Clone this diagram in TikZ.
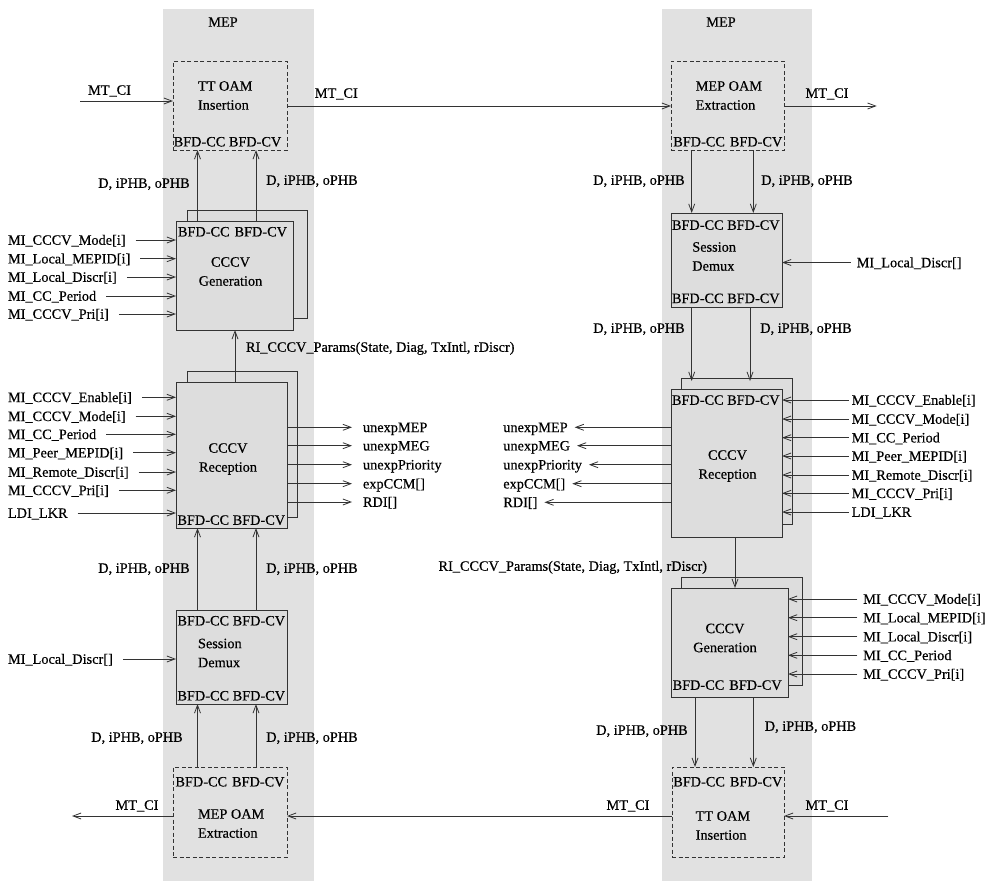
\documentclass[tikz,border=0pt]{standalone}
\usepackage{fontspec}
\setmainfont{Liberation Serif}[FakeBold=0.4]
\usetikzlibrary{arrows.meta}
\definecolor{colbg}{HTML}{E1E1E1}
\definecolor{boxbg}{HTML}{DDDDDD}
\definecolor{ln}{HTML}{333333}
\begin{document}
\begin{tikzpicture}[x=1pt,y=-1pt,
  lab/.style={font=\fontsize{14.3}{19}\selectfont, inner sep=0pt, outer sep=0pt, text height=9.5pt, text depth=0pt},
  ttl/.style={font=\fontsize{14.3}{19}\selectfont, inner sep=0pt, outer sep=0pt},
  sbox/.style={draw=ln, fill=boxbg, line width=0.8pt, inner sep=0pt, outer sep=0pt},
  dbox/.style={draw=ln, dashed, dash pattern=on 4pt off 2.5pt, line width=0.8pt, inner sep=0pt, outer sep=0pt},
  arr/.style={draw=ln, line width=0.8pt, -{Straight Barb[length=8pt,width=6pt]}}
]
\useasboundingbox (0,0) rectangle (988,881);
% columns
\fill[colbg] (163,9) rectangle (314,881);
\fill[colbg] (662,9) rectangle (812,881);
\node[ttl] (mepl) at (223,22) {MEP};
\node[ttl] (mepr) at (721,22) {MEP};

% ---------------- left column boxes ----------------
\node[dbox, minimum width=114pt, minimum height=89pt] (TTL) at (230,105.5) {};
\node[sbox, minimum width=120pt, minimum height=108pt] (GenLb) at (247,264) {};
\node[sbox, minimum width=117pt, minimum height=109pt] (GenL) at (234.5,275.5) {};
\node[sbox, minimum width=110pt, minimum height=146pt] (RecLb) at (242,444) {};
\node[sbox, minimum width=111pt, minimum height=146pt] (RecL) at (231.5,455) {};
\node[sbox, minimum width=111pt, minimum height=94pt] (DemL) at (231.5,657) {};
\node[dbox, minimum width=114pt, minimum height=90pt] (ExtL) at (230,812) {};

% ---------------- right column boxes ----------------
\node[dbox, minimum width=113pt, minimum height=89pt] (ExtR) at (727.5,105.5) {};
\node[sbox, minimum width=111pt, minimum height=94pt] (DemR) at (726.5,260) {};
\node[sbox, minimum width=111pt, minimum height=146pt] (RecRb) at (736.5,451) {};
\node[sbox, minimum width=111pt, minimum height=148pt] (RecR) at (726.5,463) {};
\node[sbox, minimum width=121pt, minimum height=108pt] (GenRb) at (741.5,631) {};
\node[sbox, minimum width=117pt, minimum height=109pt] (GenR) at (729.5,642.5) {};
\node[dbox, minimum width=112pt, minimum height=90pt] (TTR) at (728,812) {};

% ---------------- box texts ----------------
\node[ttl, anchor=west, align=left] (tTTL) at (198,95.5) {TT OAM\\Insertion};
\node[ttl, align=center] (tGenL) at (230.5,271.5) {CCCV\\Generation};
\node[ttl, align=center] (tRecL) at (228,459) {CCCV\\Reception};
\node[ttl, anchor=west, align=left] (tDemL) at (198,653) {Session\\Demux};
\node[ttl, anchor=west, align=left] (tExtL) at (198,823.5) {MEP OAM\\Extraction};
\node[ttl, anchor=west, align=left] (tExtR) at (695.7,95.5) {MEP OAM\\Extraction};
\node[ttl, anchor=west, align=left] (tDemR) at (692.3,256.5) {Session\\Demux};
\node[ttl, align=center] (tRecR) at (727.5,466) {CCCV\\Reception};
\node[ttl, align=center] (tGenR) at (725,638) {CCCV\\Generation};
\node[ttl, anchor=west, align=left] (tTTR) at (695.7,825.5) {TT OAM\\Insertion};

% BFD labels
\node[lab] (bTTL) at (227.5,141.7) {BFD-CC BFD-CV};
\node[lab] (bGenL) at (232.5,231.7) {BFD-CC\hspace{5pt}BFD-CV};
\node[lab] (bRecL) at (231.3,520) {BFD-CC BFD-CV};
\node[lab] (bDemL1) at (231.3,620.7) {BFD-CC BFD-CV};
\node[lab] (bDemL2) at (231.3,695.7) {BFD-CC BFD-CV};
\node[lab] (bExtL) at (230,781.7) {BFD-CC\hspace{5pt}BFD-CV};
\node[lab] (bExtR) at (727.8,141.7) {BFD-CC\hspace{5pt}BFD-CV};
\node[lab] (bDemR1) at (725.8,225) {BFD-CC BFD-CV};
\node[lab] (bDemR2) at (725.8,298.3) {BFD-CC BFD-CV};
\node[lab] (bRecR) at (725.8,400) {BFD-CC BFD-CV};
\node[lab] (bGenR) at (727.2,685) {BFD-CC\hspace{5pt}BFD-CV};
\node[lab] (bTTR) at (727.8,781.7) {BFD-CC\hspace{5pt}BFD-CV};

% ---------------- vertical connectors ----------------
\coordinate (xl1) at (197.5,0);
\coordinate (xl2) at (256,0);
\coordinate (xl3) at (235,0);
\coordinate (xr1) at (691.7,0);
\coordinate (xr2) at (753.3,0);
\coordinate (xr3) at (750,0);
\coordinate (xr4) at (735,0);
\coordinate (xr5) at (695,0);

\draw[arr] (GenL.north -| xl1) -- (TTL.south -| xl1);
\draw[arr] (GenL.north -| xl2) -- (TTL.south -| xl2);
\draw[arr] (RecL.north -| xl3) -- (GenL.south -| xl3);
\draw[arr] (DemL.north -| xl1) -- (RecL.south -| xl1);
\draw[arr] (DemL.north -| xl2) -- (RecL.south -| xl2);
\draw[arr] (ExtL.north -| xl1) -- (DemL.south -| xl1);
\draw[arr] (ExtL.north -| xl2) -- (DemL.south -| xl2);

\draw[arr] (ExtR.south -| xr1) -- (DemR.north -| xr1);
\draw[arr] (ExtR.south -| xr2) -- (DemR.north -| xr2);
\draw[arr] (DemR.south -| xr1) -- ([yshift=-3pt]RecRb.north -| xr1);
\draw[arr] (DemR.south -| xr3) -- ([yshift=-3pt]RecRb.north -| xr3);
\draw[arr] (RecR.south -| xr4) -- (GenR.north -| xr4);
\draw[arr] (GenR.south -| xr5) -- (TTR.north -| xr5);
\draw[arr] (GenR.south -| xr2) -- (TTR.north -| xr2);

% D, iPHB, oPHB labels
\node[lab] (d1) at (144,183) {D, iPHB, oPHB};
\node[lab] (d2) at (312,180) {D, iPHB, oPHB};
\node[lab] (d3) at (144,568) {D, iPHB, oPHB};
\node[lab] (d4) at (312,568) {D, iPHB, oPHB};
\node[lab] (d5) at (137,737) {D, iPHB, oPHB};
\node[lab] (d6) at (312,737) {D, iPHB, oPHB};
\node[lab] (d7) at (639,180) {D, iPHB, oPHB};
\node[lab] (d8) at (807,180) {D, iPHB, oPHB};
\node[lab] (d9) at (639,328) {D, iPHB, oPHB};
\node[lab] (d10) at (806,328) {D, iPHB, oPHB};
\node[lab] (d11) at (642,730) {D, iPHB, oPHB};
\node[lab] (d12) at (810.5,726) {D, iPHB, oPHB};

% RI_CCCV labels
\node[lab, anchor=west] (ril) at (246,347) {RI\_CCCV\_Params(State, Diag, TxIntl, rDiscr)};
\node[lab, anchor=east] (rir) at (707,566) {RI\_CCCV\_Params(State, Diag, TxIntl, rDiscr)};

% ---------------- MT_CI flows ----------------
\coordinate (mtl) at (80,101);
\coordinate (yt) at (0,106);
\coordinate (mtr) at (876.7,106);
\coordinate (yb) at (0,816);
\coordinate (mtbl) at (72,816);
\coordinate (mtbr) at (888.3,816);
\draw[arr] (mtl) -- (TTL.west |- mtl);
\draw[arr] (TTL.east |- yt) -- (ExtR.west |- yt);
\draw[arr] (ExtR.east |- yt) -- (mtr);
\draw[arr] (TTR.west |- yb) -- (ExtL.east |- yb);
\draw[arr] (ExtL.west |- yb) -- (mtbl);
\draw[arr] (mtbr) -- (TTR.east |- yb);
\node[lab] (m1) at (109.5,90) {MT\_CI};
\node[lab] (m2) at (336.3,93) {MT\_CI};
\node[lab] (m3) at (827,93) {MT\_CI};
\node[lab] (m4) at (137,805) {MT\_CI};
\node[lab] (m5) at (628,805) {MT\_CI};
\node[lab] (m6) at (827,805) {MT\_CI};

% ---------------- left Generation inputs ----------------
\foreach \t/\y/\n in {MI\_CCCV\_Mode[i]/240/a, MI\_Local\_MEPID[i]/258.7/b, MI\_Local\_Discr[i]/277/c, MI\_CC\_Period/296/d, MI\_CCCV\_Pri[i]/314/e}{
  \node[lab, anchor=west] (gl\n) at (8,\y) {\t};
  \draw[arr] ([xshift=10pt]gl\n.east) -- (gl\n.east -| GenL.west);
}
% ---------------- left Reception inputs ----------------
\foreach \t/\y/\n in {MI\_CCCV\_Enable[i]/397.3/a, MI\_CCCV\_Mode[i]/416.3/b, MI\_CC\_Period/434.3/c, MI\_Peer\_MEPID[i]/452.7/d, MI\_Remote\_Discr[i]/472/e, MI\_CCCV\_Pri[i]/490.3/f, LDI\_LKR/513/g}{
  \node[lab, anchor=west] (rl\n) at (8,\y) {\t};
  \draw[arr] ([xshift=10pt]rl\n.east) -- (rl\n.east -| RecL.west);
}
% ---------------- left Reception outputs ----------------
\foreach \t/\y/\n in {unexpMEP/427.3/a, unexpMEG/445.7/b, unexpPriority/464.7/c, expCCM[]/483.7/d, RDI[]/502/e}{
  \node[lab, anchor=west] (ol\n) at (363,\y) {\t};
  \draw[arr] (RecL.east |- ol\n.west) -- ([xshift=-11pt]ol\n.west);
}
% ---------------- left Demux input ----------------
\node[lab, anchor=west] (dl) at (8,659) {MI\_Local\_Discr[]};
\draw[arr] ([xshift=10pt]dl.east) -- (dl.east -| DemL.west);

% ---------------- right Demux input ----------------
\node[lab, anchor=west] (dr) at (856.7,262.5) {MI\_Local\_Discr[]};
\draw[arr] ([xshift=-6pt]dr.west) -- (dr.west -| DemR.east);
% ---------------- right Reception inputs ----------------
\foreach \t/\y/\n in {MI\_CCCV\_Enable[i]/400/a, MI\_CCCV\_Mode[i]/419/b, MI\_CC\_Period/437.7/c, MI\_Peer\_MEPID[i]/456/d, MI\_Remote\_Discr[i]/475/e, MI\_CCCV\_Pri[i]/493.3/f, LDI\_LKR/512/g}{
  \node[lab, anchor=west] (rr\n) at (851.7,\y) {\t};
  \draw[arr] ([xshift=-3pt]rr\n.west) -- (rr\n.west -| RecR.east);
}
% ---------------- right Reception outputs ----------------
\foreach \t/\y/\n in {unexpMEP/427.3/a, unexpMEG/445.7/b, unexpPriority/464.7/c, expCCM[]/483.7/d, RDI[]/502.3/e}{
  \node[lab, anchor=west] (or\n) at (503.3,\y) {\t};
  \draw[arr] (RecR.west |- or\n.east) -- ([xshift=7pt]or\n.east);
}
% ---------------- right Generation inputs ----------------
\foreach \t/\y/\n in {MI\_CCCV\_Mode[i]/599/a, MI\_Local\_MEPID[i]/617.7/b, MI\_Local\_Discr[i]/636.7/c, MI\_CC\_Period/655.3/d, MI\_CCCV\_Pri[i]/674/e}{
  \node[lab, anchor=west] (gr\n) at (863.3,\y) {\t};
  \draw[arr] ([xshift=-6pt]gr\n.west) -- (gr\n.west -| GenR.east);
}
\end{tikzpicture}
\end{document}
